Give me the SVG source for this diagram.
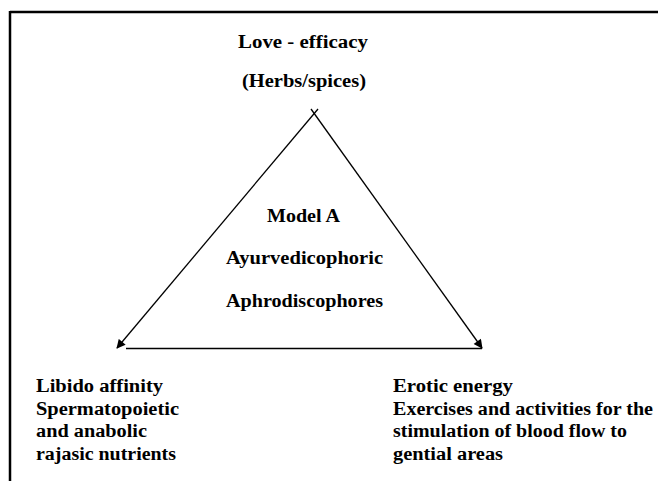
<svg xmlns="http://www.w3.org/2000/svg" width="658" height="481" viewBox="0 0 658 481">
<style>
text{font-family:"Liberation Serif","Times New Roman",serif;font-weight:bold;font-size:18px;fill:#000}
.ln{stroke:#000;stroke-width:1.3;fill:none}
</style>
<defs>
<marker id="ah" viewBox="0 0 10 10" refX="9" refY="5" markerWidth="10" markerHeight="9" orient="auto" markerUnits="userSpaceOnUse">
<path d="M0,0 L10,5 L0,10 z" fill="#000"/>
</marker>
</defs>
<rect width="658" height="481" fill="#fff"/>
<g id="frame">
<line x1="10" y1="12" x2="658" y2="12" stroke="#000" stroke-width="2.5"/>
<line x1="10" y1="11" x2="10" y2="481" stroke="#000" stroke-width="2.5"/>
</g>
<g id="top-node">
<text x="238" y="48" textLength="130" lengthAdjust="spacingAndGlyphs">Love - efficacy</text>
<text x="242" y="87" textLength="124" lengthAdjust="spacingAndGlyphs">(Herbs/spices)</text>
</g>
<g id="center-node">
<text x="267" y="222" textLength="73" lengthAdjust="spacingAndGlyphs">Model A</text>
<text x="226" y="264" textLength="157" lengthAdjust="spacingAndGlyphs">Ayurvedicophoric</text>
<text x="226" y="307" textLength="157" lengthAdjust="spacingAndGlyphs">Aphrodiscophores</text>
</g>
<g id="left-node">
<text x="36" y="392" textLength="127" lengthAdjust="spacingAndGlyphs">Libido affinity</text>
<text x="36" y="415" textLength="143" lengthAdjust="spacingAndGlyphs">Spermatopoietic</text>
<text x="36" y="437" textLength="111" lengthAdjust="spacingAndGlyphs">and anabolic</text>
<text x="36" y="460" textLength="140" lengthAdjust="spacingAndGlyphs">rajasic nutrients</text>
</g>
<g id="right-node">
<text x="393" y="392" textLength="120" lengthAdjust="spacingAndGlyphs">Erotic energy</text>
<text x="393" y="415" textLength="260" lengthAdjust="spacingAndGlyphs">Exercises and activities for the</text>
<text x="393" y="437" textLength="234" lengthAdjust="spacingAndGlyphs">stimulation of blood flow to</text>
<text x="393" y="460" textLength="110" lengthAdjust="spacingAndGlyphs">gential areas</text>
</g>
<g id="connectors">
<line class="ln" x1="318" y1="109" x2="117" y2="348" marker-end="url(#ah)"/>
<line class="ln" x1="311" y1="109" x2="482" y2="348" marker-end="url(#ah)"/>
<line class="ln" x1="126" y1="348.5" x2="482" y2="348.5" stroke-width="1.6"/>
</g>
</svg>
